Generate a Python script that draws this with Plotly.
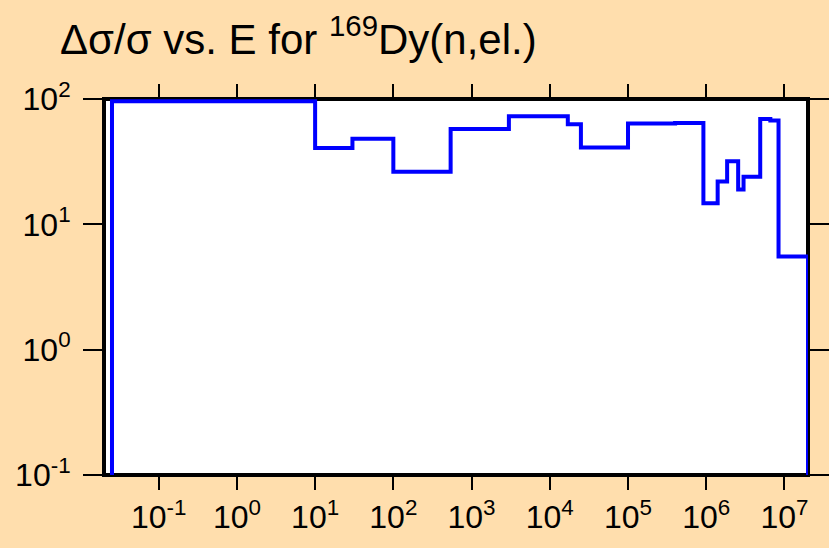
import plotly.graph_objects as go
import math

# Bin edges (eV) and relative uncertainty (%) per bin
energy_edges = [0.0253, 10, 30, 100, 540, 3000, 17000, 25000, 1.0e5, 4.0e5,
                9.2e5, 1.4e6, 1.85e6, 2.56e6, 3.0e6, 4.9e6, 6.6e6, 8.4e6, 2.0e7]
rel_unc = [96, 40.6, 48.2, 26.3, 57.5, 73.0, 63.0, 41.0, 63.7, 64.3,
           14.7, 22.0, 31.8, 19.0, 24.0, 69.1, 67.4, 5.53]
floor_value = 0.01  # below the visible axis range (drop to zero)

x_tickvals = [1e-1, 1e0, 1e1, 1e2, 1e3, 1e4, 1e5, 1e6, 1e7]
x_ticktext = ["10<sup>-1</sup>", "10<sup>0</sup>", "10<sup>1</sup>", "10<sup>2</sup>",
              "10<sup>3</sup>", "10<sup>4</sup>", "10<sup>5</sup>", "10<sup>6</sup>",
              "10<sup>7</sup>"]
y_tickvals = [1e-1, 1e0, 1e1, 1e2]
y_ticktext = ["10<sup>-1</sup>", "10<sup>0</sup>", "10<sup>1</sup>", "10<sup>2</sup>"]

x_range = [0.02, 2.0e7]
y_range = [0.1, 100]

xs = [energy_edges[0]] + energy_edges + [energy_edges[-1]]
ys = [floor_value] + rel_unc + [rel_unc[-1], floor_value]

FONT = "Liberation Sans, Arial, Helvetica, sans-serif"

fig = go.Figure()
fig.add_trace(go.Scatter(x=xs, y=ys, mode="lines", line=dict(color="#0000FF", width=4, shape="hv"),
                         hoverinfo="skip", showlegend=False))

fig.update_layout(
    width=829, height=548,
    margin=dict(l=104, r=21, t=99, b=73),
    paper_bgcolor="#FFDEAD",
    plot_bgcolor="#FFFFFF",
    font=dict(family=FONT, size=32, color="#000000"),
    title=dict(text="Δσ/σ vs. E for <sup>169</sup>Dy(n,el.)",
               font=dict(family=FONT, size=42, color="#000000"),
               xref="container", yref="container",
               x=60 / 829, xanchor="left",
               y=1 - 54 / 548, yanchor="bottom"),
    shapes=[dict(type="rect", xref="paper", yref="paper", x0=0, x1=1, y0=0, y1=1,
                 line=dict(color="#000000", width=4), layer="below")],
)
fig.update_xaxes(type="log", range=[math.log10(x_range[0]), math.log10(x_range[1])],
                 tickvals=x_tickvals, ticktext=x_ticktext,
                 ticks="outside", ticklen=14, tickwidth=2, tickcolor="#000000",
                 mirror="ticks", showline=False, showgrid=False, zeroline=False,
                 tickfont=dict(family=FONT, size=32, color="#000000"))
fig.update_yaxes(type="log", range=[math.log10(y_range[0]), math.log10(y_range[1])],
                 tickvals=y_tickvals, ticktext=y_ticktext,
                 ticks="outside", ticklen=20, tickwidth=2, tickcolor="#000000",
                 mirror="ticks", showline=False, showgrid=False, zeroline=False,
                 ticklabelstandoff=6,
                 tickfont=dict(family=FONT, size=32, color="#000000"))

fig.write_html("out.html", config={"displayModeBar": False},
               post_script="document.body.style.margin='0px';document.body.style.background='#FFDEAD';")
